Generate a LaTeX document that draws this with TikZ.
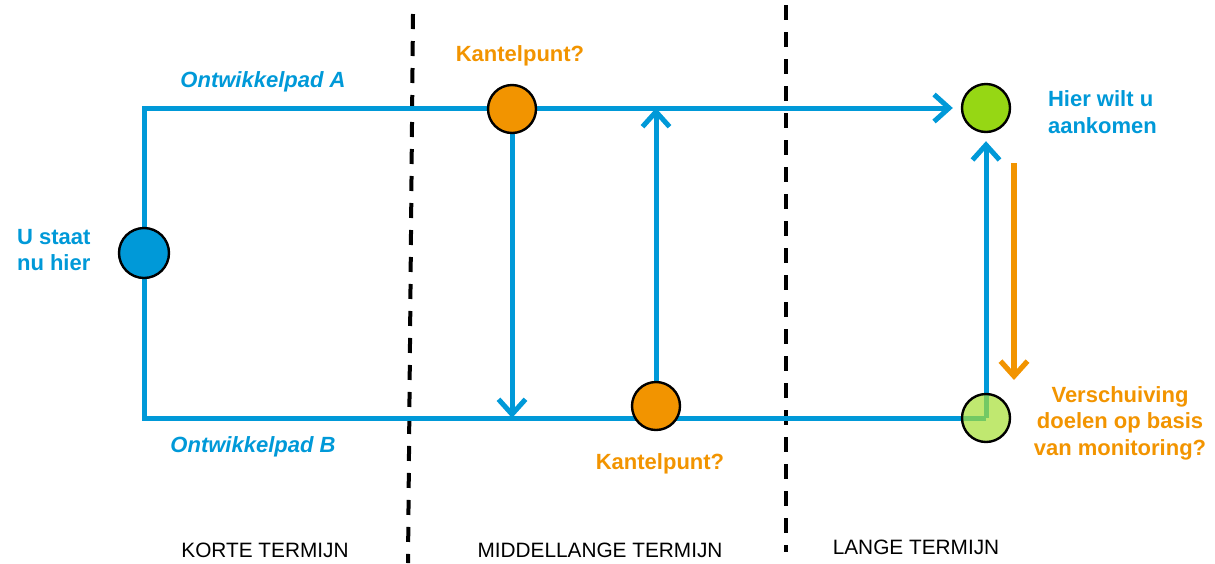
\documentclass[tikz,border=0pt]{standalone}
\usepackage{fontspec}
\setmainfont{Liberation Sans}
\usetikzlibrary{arrows.meta}
\pgfdeclarelayer{bg}
\pgfsetlayers{bg,main}
\definecolor{pathblue}{RGB}{0,153,216}
\definecolor{kantorange}{RGB}{242,148,0}
\definecolor{goalgreen}{RGB}{150,215,20}
\definecolor{altgreen}{RGB}{165,222,51}
\tikzset{
  blueline/.style={draw=pathblue, line width=2.5pt},
  chev/.style={-{Straight Barb[length=7.5pt,width=13.5pt]}},
  dot/.style={circle, draw=black, line width=1.2pt, minimum size=24pt, inner sep=0pt},
  divider/.style={draw=black, line width=2pt, dash pattern=on 7.5pt off 6pt},
  bluelabel/.style={text=pathblue, font=\fontsize{11}{13.3}\selectfont\bfseries},
  orangelabel/.style={text=kantorange, font=\fontsize{11}{13.3}\selectfont\bfseries},
  termlabel/.style={text=black, font=\fontsize{10.4}{12}\selectfont},
}
\begin{document}
\begin{tikzpicture}[x=0.5pt, y=-0.5pt]
\useasboundingbox (0,0) rectangle (1215,563);

% circles
\node[dot, fill=pathblue, minimum size=25pt] (start) at (144,253) {};
\node[dot, fill=kantorange] (k1) at (512,109) {};
\node[dot, fill=kantorange] (k2) at (656,406) {};
\node[dot, fill=goalgreen] (goal) at (986,108) {};
\node[dot, fill=altgreen, fill opacity=0.7] (alt) at (986,418) {};

% helper coordinates
\coordinate (k1b) at (512,418);
\coordinate (k2t) at (656,108);
\coordinate (o1) at (1014,163);
\coordinate (o2) at (1014,380);
\coordinate (d1a) at (413,14);
\coordinate (d1b) at (408,563);
\coordinate (d2a) at (786,5);
\coordinate (d2b) at (786,552);

\begin{pgfonlayer}{bg}
  \draw[divider] (d1a) -- (d1b);
  \draw[divider] (d2a) -- (d2b);
  \draw[blueline, chev, shorten >=4pt] (start.north) |- (goal.west);
  \draw[blueline] (start.south) |- (alt.center);
  \draw[blueline, chev, shorten >=4pt] (alt.center) -- (goal.south);
  \draw[blueline, chev] (k1.south) -- (k1b);
  \draw[blueline, chev] (k2.north) -- (k2t);
  \draw[draw=kantorange, line width=2.6pt, chev] (o1) -- (o2);
\end{pgfonlayer}

% labels
\node[bluelabel] (la) at (263,82) {\itshape Ontwikkelpad A};
\node[bluelabel] (lb) at (253,447) {\itshape Ontwikkelpad B};
\node[bluelabel, align=left, anchor=west] (lstart) at (10,250) {U staat\\nu hier};
\node[bluelabel, align=left, anchor=west] (lgoal) at (1041,112) {Hier wilt u\\aankomen};
\node[orangelabel, align=center] (lshift) at (1120,423) {Verschuiving\\doelen op basis\\van monitoring?};
\node[orangelabel] (lk1) at (520,56) {Kantelpunt?};
\node[orangelabel] (lk2) at (660,464) {Kantelpunt?};
\node[termlabel] (t1) at (265,550) {KORTE TERMIJN};
\node[termlabel] (t2) at (600,550) {MIDDELLANGE TERMIJN};
\node[termlabel] (t3) at (916,547) {LANGE TERMIJN};
\end{tikzpicture}
\end{document}
